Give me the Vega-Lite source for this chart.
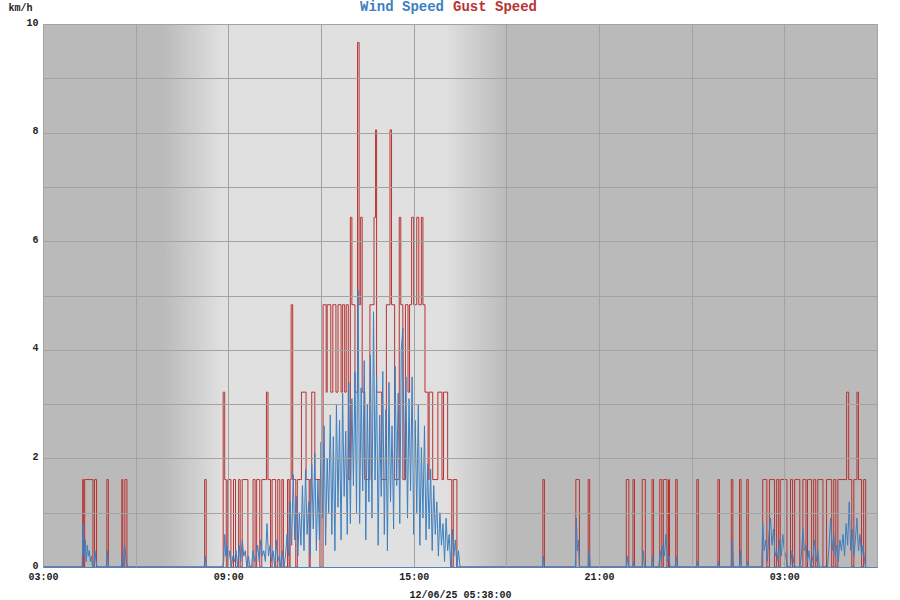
{
  "$schema": "https://vega.github.io/schema/vega-lite/v6.json",
  "width": 834,
  "height": 543,
  "autosize": {"type": "none"},
  "padding": {"left": 43, "top": 24, "right": 23, "bottom": 33},
  "background": "white",
  "config": {"view": {"stroke": "#a8a8a8", "strokeWidth": 1}, "font": "Liberation Mono"},
  "datasets": {
    "bands": [
      {"m": 180, "m2": 417, "p": "night"},
      {"m": 414, "m2": 528, "p": "dawn"},
      {"m": 525, "m2": 964, "p": "day"},
      {"m": 961, "m2": 1081, "p": "dusk"},
      {"m": 1078, "m2": 1800, "p": "night"}
    ],
    "gust": [
      {"m":180,"v":0},{"m":257,"v":1.61},{"m":259,"v":0},{"m":261,"v":1.61},{"m":277,"v":0},{"m":280,"v":1.61},{"m":284,"v":0},{"m":304,"v":1.61},{"m":307,"v":0},{"m":333,"v":1.61},{"m":335,"v":0},{"m":339,"v":1.61},{"m":343,"v":0},{"m":494,"v":1.61},{"m":497,"v":0},
      {"m":530,"v":3.22},{"m":533,"v":1.61},{"m":536,"v":0},{"m":539,"v":1.61},{"m":545,"v":0},{"m":550,"v":1.61},{"m":554,"v":0},{"m":560,"v":1.61},{"m":563,"v":0},{"m":567,"v":1.61},{"m":578,"v":0},{"m":588,"v":1.61},{"m":592,"v":0},{"m":595,"v":1.61},{"m":601,"v":0},{"m":605,"v":1.61},{"m":614,"v":3.22},{"m":617,"v":1.61},{"m":622,"v":0},{"m":625,"v":1.61},{"m":632,"v":0},{"m":636,"v":1.61},{"m":640,"v":0},{"m":644,"v":1.61},{"m":647,"v":0},{"m":655,"v":1.61},{"m":658,"v":0},{"m":660,"v":1.61},{"m":662,"v":4.83},{"m":665,"v":1.61},{"m":671,"v":0},{"m":674,"v":1.61},{"m":682,"v":3.22},{"m":691,"v":1.61},{"m":697,"v":0},{"m":699,"v":1.61},{"m":702,"v":3.22},{"m":708,"v":1.61},{"m":718,"v":0},{"m":724,"v":4.83},{"m":730,"v":3.22},{"m":732,"v":4.83},{"m":739,"v":3.22},{"m":743,"v":4.83},{"m":749,"v":3.22},{"m":753,"v":4.83},{"m":759,"v":3.22},{"m":762,"v":4.83},{"m":766,"v":3.22},{"m":769,"v":4.83},{"m":773,"v":1.61},{"m":777,"v":6.44},{"m":780,"v":4.83},{"m":786,"v":3.22},{"m":791,"v":9.66},{"m":794,"v":4.83},{"m":797,"v":6.44},{"m":800,"v":3.22},{"m":805,"v":1.61},{"m":815,"v":4.83},{"m":823,"v":6.44},{"m":826,"v":8.05},{"m":828,"v":3.22},{"m":838,"v":1.61},{"m":847,"v":4.83},{"m":854,"v":8.05},{"m":857,"v":4.83},{"m":863,"v":1.61},{"m":872,"v":6.44},{"m":875,"v":4.83},{"m":879,"v":1.61},{"m":884,"v":4.83},{"m":889,"v":3.22},{"m":892,"v":4.83},{"m":896,"v":6.44},{"m":900,"v":4.83},{"m":906,"v":6.44},{"m":910,"v":4.83},{"m":915,"v":6.44},{"m":918,"v":4.83},{"m":922,"v":3.22},{"m":928,"v":1.61},{"m":930,"v":3.22},{"m":937,"v":1.61},{"m":947,"v":3.22},{"m":955,"v":1.61},{"m":958,"v":3.22},{"m":966,"v":1.61},{"m":974,"v":0},{"m":977,"v":1.61},{"m":984,"v":0},
      {"m":1151,"v":1.61},{"m":1154,"v":0},{"m":1215,"v":1.61},{"m":1222,"v":0},{"m":1239,"v":1.61},{"m":1242,"v":0},{"m":1313,"v":1.61},{"m":1318,"v":0},{"m":1326,"v":1.61},{"m":1329,"v":0},{"m":1344,"v":1.61},{"m":1350,"v":0},{"m":1363,"v":1.61},{"m":1366,"v":0},{"m":1378,"v":1.61},{"m":1382,"v":0},{"m":1385,"v":1.61},{"m":1392,"v":0},{"m":1395,"v":1.61},{"m":1397,"v":0},{"m":1409,"v":1.61},{"m":1412,"v":0},{"m":1450,"v":1.61},{"m":1453,"v":0},{"m":1491,"v":1.61},{"m":1494,"v":0},{"m":1517,"v":1.61},{"m":1520,"v":0},{"m":1533,"v":1.61},{"m":1536,"v":0},{"m":1547,"v":1.61},{"m":1550,"v":0},{"m":1578,"v":1.61},{"m":1586,"v":0},{"m":1591,"v":1.61},{"m":1601,"v":0},{"m":1605,"v":1.61},{"m":1609,"v":0},{"m":1612,"v":1.61},{"m":1625,"v":0},{"m":1632,"v":1.61},{"m":1636,"v":0},{"m":1640,"v":1.61},{"m":1650,"v":0},{"m":1656,"v":1.61},{"m":1662,"v":0},{"m":1665,"v":1.61},{"m":1673,"v":0},{"m":1677,"v":1.61},{"m":1681,"v":0},{"m":1685,"v":1.61},{"m":1695,"v":0},{"m":1702,"v":1.61},{"m":1712,"v":0},{"m":1716,"v":1.61},{"m":1720,"v":0},{"m":1724,"v":1.61},{"m":1741,"v":3.22},{"m":1745,"v":1.61},{"m":1751,"v":0},{"m":1755,"v":1.61},{"m":1761,"v":3.22},{"m":1764,"v":1.61},{"m":1770,"v":0},{"m":1774,"v":1.61},{"m":1778,"v":0}
    ],
    "wind": [
      {"m":180,"v":0},{"m":256,"v":0},{"m":258,"v":0.8},{"m":260,"v":0.2},{"m":262,"v":0.5},{"m":264,"v":0.1},{"m":266,"v":0.4},{"m":268,"v":0.2},{"m":270,"v":0.3},{"m":272,"v":0.1},{"m":274,"v":0.2},{"m":276,"v":0},{"m":279,"v":0},{"m":281,"v":0.3},{"m":283,"v":0.1},{"m":285,"v":0},{"m":303,"v":0},{"m":305,"v":0.3},{"m":307,"v":0},{"m":332,"v":0},{"m":334,"v":0.2},{"m":336,"v":0},{"m":338,"v":0.4},{"m":340,"v":0.3},{"m":342,"v":0.1},{"m":344,"v":0},{"m":493,"v":0},{"m":495,"v":0.2},{"m":497,"v":0},{"m":529,"v":0},
      {"m":531,"v":0.1},{"m":533,"v":0.6},{"m":535,"v":0.2},{"m":537,"v":0.4},{"m":540,"v":0.1},{"m":543,"v":0.3},{"m":546,"v":0},{"m":549,"v":0.2},{"m":552,"v":0.1},{"m":555,"v":0.3},{"m":558,"v":0},{"m":561,"v":0.4},{"m":564,"v":0.1},{"m":567,"v":0.5},{"m":570,"v":0.2},{"m":573,"v":0.3},{"m":576,"v":0},{"m":579,"v":0.2},{"m":582,"v":0},{"m":585,"v":0},{"m":588,"v":0.3},{"m":591,"v":0.1},{"m":594,"v":0.2},{"m":597,"v":0.4},{"m":600,"v":0.1},{"m":603,"v":0.5},{"m":606,"v":0.2},{"m":609,"v":0.3},{"m":612,"v":0.1},{"m":615,"v":0.8},{"m":618,"v":0.2},{"m":621,"v":0.4},{"m":624,"v":0.1},{"m":627,"v":0.3},{"m":630,"v":0},{"m":633,"v":0.5},{"m":636,"v":0.1},{"m":639,"v":0.2},{"m":642,"v":0},{"m":645,"v":0.3},{"m":648,"v":0},{"m":651,"v":0.2},{"m":654,"v":0.6},{"m":657,"v":0.2},{"m":660,"v":1.2},{"m":663,"v":0.4},{"m":666,"v":1.7},{"m":669,"v":0.5},{"m":672,"v":1.3},{"m":675,"v":0.2},{"m":678,"v":1.0},{"m":681,"v":0.4},{"m":684,"v":1.5},{"m":687,"v":0.3},{"m":690,"v":1.8},{"m":693,"v":0.6},{"m":696,"v":1.2},{"m":699,"v":0.2},{"m":702,"v":1.9},{"m":705,"v":0.7},{"m":708,"v":2.1},{"m":711,"v":0.3},{"m":714,"v":1.6},{"m":717,"v":0.5},{"m":720,"v":2.3},{"m":723,"v":0.9},{"m":726,"v":2.6},{"m":729,"v":0.4},{"m":732,"v":2.0},{"m":735,"v":1.0},{"m":738,"v":2.8},{"m":741,"v":0.6},{"m":744,"v":2.4},{"m":747,"v":0.3},{"m":750,"v":3.0},{"m":753,"v":1.1},{"m":756,"v":2.7},{"m":759,"v":0.5},{"m":762,"v":3.2},{"m":765,"v":1.3},{"m":768,"v":2.5},{"m":771,"v":0.6},{"m":774,"v":3.4},{"m":777,"v":0.8},{"m":780,"v":3.1},{"m":783,"v":1.5},{"m":786,"v":3.6},{"m":789,"v":1.0},{"m":792,"v":5.1},{"m":795,"v":0.8},{"m":798,"v":3.3},{"m":801,"v":1.4},{"m":804,"v":3.8},{"m":807,"v":0.5},{"m":810,"v":3.0},{"m":813,"v":1.2},{"m":816,"v":3.9},{"m":819,"v":0.9},{"m":822,"v":4.7},{"m":825,"v":1.6},{"m":828,"v":3.5},{"m":831,"v":0.4},{"m":834,"v":2.8},{"m":837,"v":1.3},{"m":840,"v":3.6},{"m":843,"v":0.6},{"m":846,"v":2.9},{"m":849,"v":0.3},{"m":852,"v":3.4},{"m":855,"v":1.2},{"m":858,"v":2.6},{"m":861,"v":0.7},{"m":864,"v":3.7},{"m":867,"v":1.5},{"m":870,"v":3.2},{"m":873,"v":0.8},{"m":876,"v":4.0},{"m":879,"v":4.4},{"m":882,"v":1.6},{"m":885,"v":3.5},{"m":888,"v":0.9},{"m":891,"v":3.1},{"m":894,"v":1.4},{"m":897,"v":3.5},{"m":900,"v":0.6},{"m":903,"v":2.7},{"m":906,"v":1.0},{"m":909,"v":3.0},{"m":912,"v":0.4},{"m":915,"v":2.2},{"m":918,"v":0.9},{"m":921,"v":2.6},{"m":924,"v":0.5},{"m":927,"v":1.9},{"m":930,"v":0.7},{"m":933,"v":1.8},{"m":936,"v":0.3},{"m":939,"v":1.5},{"m":942,"v":0.6},{"m":945,"v":1.2},{"m":948,"v":0.2},{"m":951,"v":1.0},{"m":954,"v":0.4},{"m":957,"v":0.8},{"m":960,"v":0.1},{"m":963,"v":0.9},{"m":966,"v":0.3},{"m":969,"v":0.6},{"m":972,"v":0},{"m":975,"v":0.7},{"m":978,"v":0.2},{"m":981,"v":0.5},{"m":984,"v":0},{"m":987,"v":0.3},{"m":990,"v":0},
      {"m":1150,"v":0},{"m":1152,"v":0.2},{"m":1154,"v":0},{"m":1214,"v":0},{"m":1216,"v":0.9},{"m":1218,"v":0.3},{"m":1220,"v":0.5},{"m":1222,"v":0},{"m":1239,"v":0},{"m":1241,"v":0.3},{"m":1243,"v":0},{"m":1313,"v":0},{"m":1315,"v":0.2},{"m":1317,"v":0},{"m":1325,"v":0},{"m":1327,"v":0.1},{"m":1329,"v":0},{"m":1344,"v":0},{"m":1346,"v":0.3},{"m":1348,"v":0},{"m":1362,"v":0},{"m":1364,"v":0.2},{"m":1366,"v":0},{"m":1376,"v":0},{"m":1379,"v":0.3},{"m":1381,"v":0.1},{"m":1384,"v":0.4},{"m":1387,"v":0.2},{"m":1390,"v":0.6},{"m":1393,"v":0.1},{"m":1396,"v":0.2},{"m":1398,"v":0},{"m":1408,"v":0},{"m":1410,"v":0.2},{"m":1412,"v":0},{"m":1449,"v":0},{"m":1451,"v":0.1},{"m":1453,"v":0},{"m":1490,"v":0},{"m":1492,"v":0.1},{"m":1494,"v":0},{"m":1517,"v":0},{"m":1519,"v":0.5},{"m":1521,"v":0},{"m":1533,"v":0},{"m":1535,"v":0.3},{"m":1537,"v":0},{"m":1546,"v":0},{"m":1548,"v":0.1},{"m":1550,"v":0},{"m":1576,"v":0},{"m":1578,"v":0.8},{"m":1581,"v":0.3},{"m":1584,"v":0.5},{"m":1587,"v":0.1},{"m":1590,"v":0.6},{"m":1593,"v":0.9},{"m":1596,"v":0.4},{"m":1599,"v":0.7},{"m":1602,"v":0.2},{"m":1605,"v":0.3},{"m":1608,"v":0.1},{"m":1611,"v":0.5},{"m":1614,"v":0.2},{"m":1617,"v":0.6},{"m":1620,"v":0.3},{"m":1623,"v":0.2},{"m":1626,"v":0},{"m":1632,"v":0},{"m":1635,"v":0.3},{"m":1638,"v":0.1},{"m":1641,"v":0},{"m":1650,"v":0},{"m":1653,"v":0.2},{"m":1656,"v":0.7},{"m":1659,"v":0.3},{"m":1662,"v":0.4},{"m":1665,"v":0.1},{"m":1668,"v":0.3},{"m":1671,"v":0},{"m":1676,"v":0.2},{"m":1679,"v":0.5},{"m":1682,"v":0.1},{"m":1685,"v":0.3},{"m":1688,"v":0},{"m":1704,"v":0},{"m":1707,"v":0.4},{"m":1710,"v":0.9},{"m":1713,"v":0.3},{"m":1716,"v":0.6},{"m":1719,"v":0.2},{"m":1722,"v":0.4},{"m":1725,"v":0.1},{"m":1728,"v":0.5},{"m":1731,"v":0.3},{"m":1734,"v":0.6},{"m":1737,"v":0.2},{"m":1740,"v":0.8},{"m":1743,"v":0.4},{"m":1746,"v":1.2},{"m":1749,"v":0.3},{"m":1752,"v":0.7},{"m":1755,"v":0.2},{"m":1758,"v":0.5},{"m":1761,"v":0.9},{"m":1764,"v":0.3},{"m":1767,"v":0.6},{"m":1770,"v":0.2},{"m":1773,"v":0.4},{"m":1776,"v":0.1},{"m":1778,"v":0}
    ]
  },
  "encoding": {
    "x": {
      "field": "m",
      "type": "quantitative",
      "scale": {"domain": [180, 1800], "nice": false, "zero": false},
      "axis": {
        "values": [180, 360, 540, 720, 900, 1080, 1260, 1440, 1620, 1800],
        "labelExpr": "datum.value % 360 == 180 ? ((floor(datum.value / 60) % 24 < 10 ? '0' : '') + (floor(datum.value / 60) % 24) + ':00') : ''",
        "labelFlush": false,
        "labelOverlap": false,
        "title": "12/06/25 05:38:00",
        "grid": true,
        "gridColor": "#a3a3a3",
        "gridOpacity": 1,
        "ticks": false,
        "domainColor": "#4a86c0",
        "labelFont": "Liberation Mono",
        "labelFontSize": 10,
        "labelFontWeight": "bold",
        "labelColor": "#222222",
        "labelPadding": 4,
        "titleFont": "Liberation Mono",
        "titleFontSize": 10,
        "titleFontWeight": "bold",
        "titleColor": "#222222",
        "titlePadding": 8,
        "zindex": 1
      }
    }
  },
  "layer": [
    {
      "data": {"name": "bands"},
      "transform": [{"filter": "datum.p == 'night'"}],
      "mark": {"type": "rect", "fill": "#bababa"},
      "encoding": {"x2": {"field": "m2"}}
    },
    {
      "data": {"name": "bands"},
      "transform": [{"filter": "datum.p == 'day'"}],
      "mark": {"type": "rect", "fill": "#e0e0e0"},
      "encoding": {"x2": {"field": "m2"}}
    },
    {
      "data": {"name": "bands"},
      "transform": [{"filter": "datum.p == 'dawn'"}],
      "mark": {"type": "rect", "fill": {"gradient": "linear", "x1": 0, "y1": 0, "x2": 1, "y2": 0, "stops": [{"offset": 0, "color": "#bababa"}, {"offset": 1, "color": "#e0e0e0"}]}},
      "encoding": {"x2": {"field": "m2"}}
    },
    {
      "data": {"name": "bands"},
      "transform": [{"filter": "datum.p == 'dusk'"}],
      "mark": {"type": "rect", "fill": {"gradient": "linear", "x1": 0, "y1": 0, "x2": 1, "y2": 0, "stops": [{"offset": 0, "color": "#e0e0e0"}, {"offset": 1, "color": "#bababa"}]}},
      "encoding": {"x2": {"field": "m2"}}
    },
    {
      "data": {"name": "gust"},
      "mark": {"type": "line", "interpolate": "step-after", "strokeWidth": 1},
      "encoding": {
        "y": {
          "field": "v", "type": "quantitative",
          "scale": {"domain": [0, 10], "nice": false},
          "axis": {
            "values": [0, 1, 2, 3, 4, 5, 6, 7, 8, 9, 10],
            "labelExpr": "datum.value % 2 == 0 ? datum.label : ''",
            "grid": true, "gridColor": "#a3a3a3", "gridOpacity": 1,
            "ticks": false, "domain": false,
            "labelFont": "Liberation Mono", "labelFontSize": 10, "labelFontWeight": "bold", "labelColor": "#222222", "labelPadding": 5, "labelOffset": -2,
            "title": "km/h", "titleAngle": 0, "titleAlign": "left", "titleBaseline": "middle", "titleX": -35, "titleY": -17,
            "titleFont": "Liberation Mono", "titleFontSize": 10, "titleFontWeight": "bold", "titleColor": "#222222",
            "zindex": 1
          }
        },
        "color": {
          "datum": "Gust Speed",
          "type": "nominal",
          "scale": {"domain": ["Wind Speed", "Gust Speed"], "range": ["#3d7fbf", "#b83232"]},
          "legend": {
            "orient": "none", "legendX": 319, "legendY": -24, "direction": "horizontal", "title": null,
            "symbolSize": 0, "symbolStrokeWidth": 0, "symbolOpacity": 0, "labelOffset": -16, "columnPadding": 8,
            "labelFont": "Liberation Mono", "labelFontSize": 14, "labelFontWeight": "bold",
            "encode": {"labels": {"update": {"fill": {"signal": "datum.value == 'Wind Speed' ? '#3d7fbf' : '#b83232'"}}}}
          }
        }
      }
    },
    {
      "data": {"name": "wind"},
      "mark": {"type": "line", "interpolate": "linear", "strokeWidth": 1},
      "encoding": {
        "y": {"field": "v", "type": "quantitative"},
        "color": {"datum": "Wind Speed", "type": "nominal"}
      }
    }
  ]
}
